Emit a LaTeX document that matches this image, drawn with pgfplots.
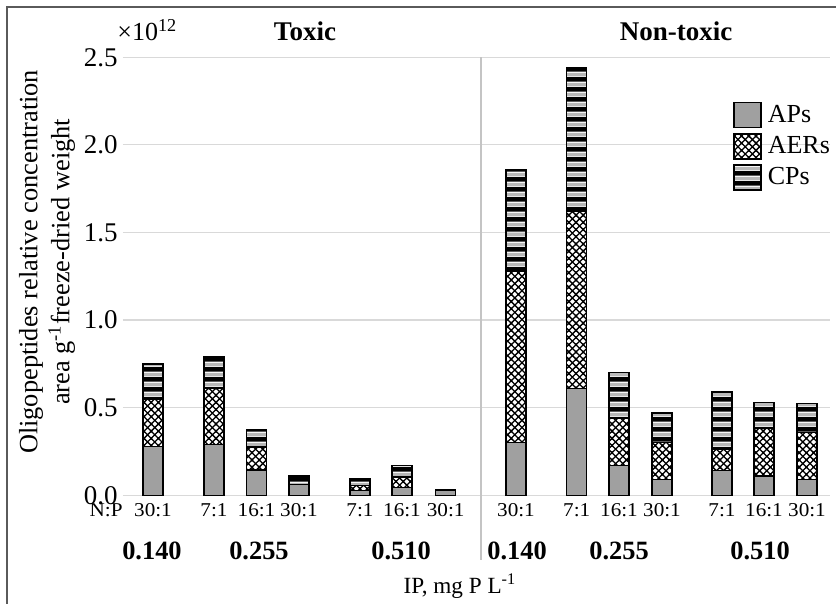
\documentclass[border=0pt]{standalone}
\usepackage{fontspec}
\setmainfont{Liberation Serif}
\usepackage{graphicx}
\usepackage{pgfplots}
\pgfplotsset{compat=1.18}
\usepackage{pgfplotstable}
\usetikzlibrary{patterns}

\definecolor{apgray}{HTML}{A0A0A0}
\definecolor{cpgray}{HTML}{B8B8B8}
\definecolor{gridgray}{HTML}{D9D9D9}
\definecolor{divgray}{HTML}{C4C4C4}
\definecolor{framegray}{HTML}{5A5A5A}

\newcommand{\sx}[1]{\scalebox{1.08}[1]{#1}}

\pgfdeclarepatternformonly{xhatch}{\pgfqpoint{-0.6pt}{-0.6pt}}{\pgfqpoint{4.2pt}{4.2pt}}{\pgfqpoint{3.6pt}{3.6pt}}{%
  \pgfsetlinewidth{0.65pt}%
  \pgfpathmoveto{\pgfqpoint{-0.6pt}{-0.6pt}}\pgfpathlineto{\pgfqpoint{4.2pt}{4.2pt}}%
  \pgfpathmoveto{\pgfqpoint{-0.6pt}{4.2pt}}\pgfpathlineto{\pgfqpoint{4.2pt}{-0.6pt}}%
  \pgfusepath{stroke}}

\pgfdeclarepatterninherentlycolored{cpstripe}{\pgfpointorigin}{\pgfqpoint{900pt}{5.1pt}}{\pgfqpoint{900pt}{5.1pt}}{%
  \pgfsetfillcolor{white}\pgfpathrectangle{\pgfpointorigin}{\pgfqpoint{900pt}{5.1pt}}\pgfusepath{fill}%
  \pgfsetfillcolor{black}\pgfpathrectangle{\pgfqpoint{0pt}{0.2pt}}{\pgfqpoint{900pt}{2.4pt}}\pgfusepath{fill}%
  \pgfsetfillcolor{cpgray}\pgfpathrectangle{\pgfqpoint{0pt}{3.0pt}}{\pgfqpoint{900pt}{1.9pt}}\pgfusepath{fill}}

\pgfplotsset{sqlegend/.style={legend image code/.code={\draw[##1,draw=black,line width=0.7pt] (0pt,-6.25pt) rectangle (13.5pt,6.25pt);}}}

% x = bar centre (image pixel column), values in units of 10^12
\pgfplotstableread{
x      ap     aer    cp
153    0.28   0.27   0.20
214    0.29   0.32   0.18
256.5  0.145  0.13   0.10
299    0.06   0.0    0.05
360    0.027  0.03   0.04
402    0.045  0.06   0.065
445.7  0.03   0.0    0.0
516    0.30   0.98   0.58
576.7  0.61   1.01   0.82
619    0.17   0.27   0.26
662    0.09   0.21   0.17
722    0.14   0.12   0.33
764    0.11   0.27   0.15
807    0.09   0.27   0.165
}\datatable

\begin{document}
\begin{tikzpicture}
\begin{axis}[
  scale only axis, width=353.5pt, height=219pt,
  xmin=123, xmax=830, ymin=0, ymax=2.5,
  enlargelimits=false, clip=false,
  ybar stacked, bar width=10pt,
  axis line style={draw=none},
  major tick length=0pt,
  ymajorgrids, grid style={gridgray, line width=0.6pt},
  ytick={0,0.5,1,1.5,2,2.5},
  /pgf/number format/assume math mode=true,
  yticklabel style={font=\fontsize{13.5}{14}\selectfont, inner sep=0pt, xshift=-2.5pt,
    /pgf/number format/fixed, /pgf/number format/fixed zerofill, /pgf/number format/precision=1},
  xtick={153,214,256.5,299,360,402,445.7,516,576.7,619,662,722,764,807},
  xticklabels={\sx{30:1},\sx{7:1},\sx{16:1},\sx{30:1},\sx{7:1},\sx{16:1},\sx{30:1},\sx{30:1},\sx{7:1},\sx{16:1},\sx{30:1},\sx{7:1},\sx{16:1},\sx{30:1}},
  xticklabel style={font=\fontsize{9.8}{10}\selectfont, inner sep=0pt, anchor=base, yshift=-10.8pt},
  legend style={at={(0.8628,0.9008)}, anchor=north west, draw=none, fill=none, inner sep=0pt,
    font=\fontsize{13}{13}\selectfont, row sep=1.5pt,
    /tikz/every odd column/.append style={column sep=1pt}},
  legend cell align=left,
]
\addplot[fill=apgray, draw=black, line width=0.7pt, sqlegend] table[x=x,y=ap] {\datatable};
\addplot[fill=white, postaction={pattern=xhatch, pattern color=black}, draw=black, line width=0.7pt, sqlegend] table[x=x,y=aer] {\datatable};
\addplot[pattern=cpstripe, draw=black, line width=0.7pt, sqlegend] table[x=x,y=cp] {\datatable};
\legend{APs,AERs,CPs}

% divider between groups
\draw[divgray, line width=0.6pt] (axis cs:481,2.5) -- (axis cs:481,-0.369);
% frame (left and top visible)
\draw[framegray, line width=1pt] (axis cs:7,-0.6204) -- (axis cs:7,2.787) -- (axis cs:836,2.787);

% titles and labels
\node[anchor=base west, inner sep=0pt, font=\fontsize{13}{13}\selectfont] at (axis cs:117,2.595) {×10\textsuperscript{12}};
\node[anchor=base, inner sep=0pt, font=\bfseries\fontsize{13.5}{14}\selectfont] at (axis cs:305,2.595) {Toxic};
\node[anchor=base, inner sep=0pt, font=\bfseries\fontsize{13.5}{14}\selectfont] at (axis cs:676,2.595) {Non-toxic};
\node[rotate=90, align=center, inner sep=0pt, font=\fontsize{13.2}{16}\selectfont] at (axis cs:47,1.332)
  {Oligopeptides relative concentration\\area g\textsuperscript{-1}freeze-dried weight};
\node[anchor=base east, inner sep=0pt, font=\fontsize{9.8}{10}\selectfont] at (axis cs:123,-0.1233) {\sx{N:P}};
\node[anchor=base, inner sep=0pt, font=\bfseries\fontsize{13.2}{14}\selectfont] at (axis cs:152,-0.369) {0.140};
\node[anchor=base, inner sep=0pt, font=\bfseries\fontsize{13.2}{14}\selectfont] at (axis cs:259,-0.369) {0.255};
\node[anchor=base, inner sep=0pt, font=\bfseries\fontsize{13.2}{14}\selectfont] at (axis cs:401,-0.369) {0.510};
\node[anchor=base, inner sep=0pt, font=\bfseries\fontsize{13.2}{14}\selectfont] at (axis cs:517,-0.369) {0.140};
\node[anchor=base, inner sep=0pt, font=\bfseries\fontsize{13.2}{14}\selectfont] at (axis cs:619,-0.369) {0.255};
\node[anchor=base, inner sep=0pt, font=\bfseries\fontsize{13.2}{14}\selectfont] at (axis cs:760,-0.369) {0.510};
\node[anchor=base, inner sep=0pt, font=\fontsize{11.6}{12}\selectfont] at (axis cs:460,-0.558) {IP, mg P L\textsuperscript{-1}};

\coordinate (BBL) at (axis cs:0,-0.6204);
\coordinate (BTR) at (axis cs:836,2.827);
\end{axis}
\pgfresetboundingbox
\path[use as bounding box] (BBL) rectangle (BTR);
\end{tikzpicture}
\end{document}
